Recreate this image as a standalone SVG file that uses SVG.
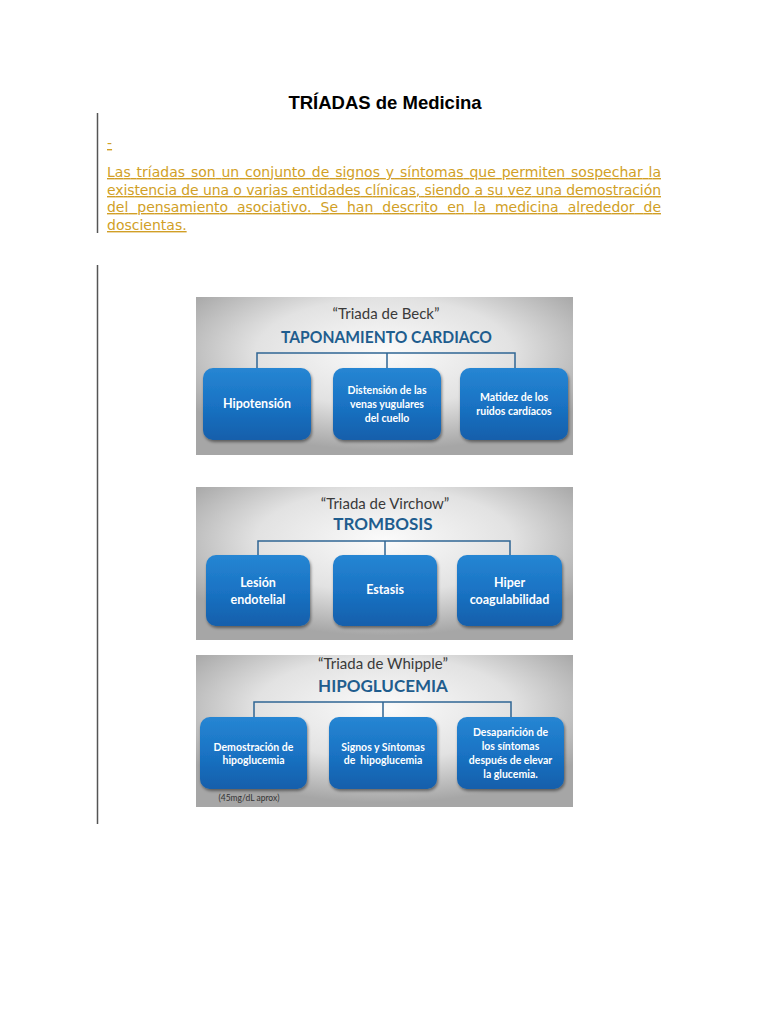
<svg xmlns="http://www.w3.org/2000/svg" width="768" height="1024" viewBox="0 0 768 1024">
<defs>
<radialGradient id="pg" cx="0.5" cy="0.35" r="0.62">
<stop offset="0" stop-color="#fbfbfb"/>
<stop offset="0.55" stop-color="#e2e2e2"/>
<stop offset="1" stop-color="#a6a6a6"/>
</radialGradient>
<linearGradient id="bg" x1="0" y1="0" x2="0" y2="1">
<stop offset="0" stop-color="#2686d3"/>
<stop offset="0.5" stop-color="#1a73c4"/>
<stop offset="1" stop-color="#135fab"/>
</linearGradient>
<filter id="sh" x="-10%" y="-10%" width="125%" height="130%">
<feDropShadow dx="1" dy="2" stdDeviation="1.5" flood-color="#000" flood-opacity="0.45"/>
</filter>
</defs>
<style>
.bar{stroke:#555;stroke-width:1.5}
.h1{font-family:"Liberation Sans",Arial,sans-serif;font-weight:bold;font-size:18.5px;fill:#000}
.p{font-family:"DejaVu Sans",Verdana,sans-serif;font-size:14px;fill:#d19f26;text-decoration:underline}
.panel{fill:url(#pg)}
.tt{font-family:Lato,"Open Sans",sans-serif;font-size:15px;fill:#3a3a3a;text-anchor:middle}
.hd{font-family:Lato,"Open Sans",sans-serif;font-weight:bold;font-size:17px;fill:#1f5d8e;text-anchor:middle}
.box{fill:url(#bg);filter:url(#sh)}
.bt{font-family:Lato,"Open Sans",sans-serif;font-weight:bold;fill:#fff;text-anchor:middle}
.s12{font-size:12.5px}
.s10{font-size:10.5px}
.cn{fill:none;stroke:#2f6594;stroke-width:1.5}
.note{font-family:Lato,"Open Sans",sans-serif;font-size:8.5px;fill:#333;text-anchor:middle}
</style>
<rect width="768" height="1024" fill="#fff"/>
<g id="header">
<text class="h1" x="385" y="109" text-anchor="middle">TRÍADAS de Medicina</text>
<line class="bar" x1="97.5" y1="113" x2="97.5" y2="233"/>
<line class="bar" x1="97.5" y1="265" x2="97.5" y2="824"/>
<text class="p" x="107" y="148">-</text>
<text class="p" x="107" y="177" word-spacing="1.4" textLength="554" lengthAdjust="spacing">Las tríadas son un conjunto de signos y síntomas que permiten sospechar la</text>
<text class="p" x="107" y="195" textLength="554" lengthAdjust="spacing">existencia de una o varias entidades clínicas, siendo a su vez una demostración</text>
<text class="p" x="107" y="212" word-spacing="4.7" textLength="554" lengthAdjust="spacing">del pensamiento asociativo. Se han descrito en la medicina alrededor de</text>
<text class="p" x="107" y="230">doscientas.</text>
</g>
<g id="panel-beck">
<rect class="panel" x="196" y="297" width="377" height="158"/>
<text class="tt" x="386" y="319">“Triada de Beck”</text>
<text class="hd" x="386.5" y="343" textLength="211" lengthAdjust="spacingAndGlyphs">TAPONAMIENTO CARDIACO</text>
</g>
<g id="panel-virchow">
<rect class="panel" x="196" y="487" width="377" height="153"/>
<text class="tt" x="385" y="509">“Triada de Virchow”</text>
<text class="hd" x="383" y="530">TROMBOSIS</text>
</g>
<g id="panel-whipple">
<rect class="panel" x="196" y="655" width="377" height="152"/>
<text class="tt" x="383" y="669">“Triada de Whipple”</text>
<text class="hd" x="383" y="692">HIPOGLUCEMIA</text>
<text class="note" x="249" y="801">(45mg/dL aprox)</text>
</g>
<g id="connectors">
<path class="cn" d="M257 368V353H515V368M387 353V368"/>
<path class="cn" d="M258 556V541H510V556M385 541V556"/>
<path class="cn" d="M254 717V702H511V717M383 702V717"/>
</g>
<g id="node-hipotension">
<rect class="box" x="203" y="368" width="108" height="72" rx="10"/>
<text class="bt s12" x="257" y="408">Hipotensión</text>
</g>
<g id="node-distension">
<rect class="box" x="333" y="368" width="108" height="72" rx="10"/>
<text class="bt s10" x="387"><tspan x="387" y="394">Distensión de las</tspan><tspan x="387" y="408">venas yugulares</tspan><tspan x="387" y="422">del cuello</tspan></text>
</g>
<g id="node-matidez">
<rect class="box" x="460" y="368" width="108" height="72" rx="10"/>
<text class="bt s10" x="514"><tspan x="514" y="401">Matidez de los</tspan><tspan x="514" y="415">ruidos cardíacos</tspan></text>
</g>
<g id="node-lesion">
<rect class="box" x="206" y="555" width="104" height="71" rx="10"/>
<text class="bt s12" x="258"><tspan x="258" y="587">Lesión</tspan><tspan x="258" y="604">endotelial</tspan></text>
</g>
<g id="node-estasis">
<rect class="box" x="333" y="555" width="104" height="71" rx="10"/>
<text class="bt s12" x="385" y="594">Estasis</text>
</g>
<g id="node-hiper">
<rect class="box" x="457" y="555" width="105" height="71" rx="10"/>
<text class="bt s12" x="509.5"><tspan x="509.5" y="587">Hiper</tspan><tspan x="509.5" y="604">coagulabilidad</tspan></text>
</g>
<g id="node-demostracion">
<rect class="box" x="200" y="717" width="107" height="72" rx="10"/>
<text class="bt s10" x="253.5"><tspan x="253.5" y="751">Demostración de</tspan><tspan x="253.5" y="764">hipoglucemia</tspan></text>
</g>
<g id="node-signos">
<rect class="box" x="329" y="717" width="108" height="72" rx="10"/>
<text class="bt s10" x="383" xml:space="preserve"><tspan x="383" y="751">Signos y Síntomas</tspan><tspan x="383" y="764">de  hipoglucemia</tspan></text>
</g>
<g id="node-desaparicion">
<rect class="box" x="457" y="717" width="107" height="72" rx="10"/>
<text class="bt s10" x="510.5"><tspan x="510.5" y="736">Desaparición de</tspan><tspan x="510.5" y="750">los síntomas</tspan><tspan x="510.5" y="764">después de elevar</tspan><tspan x="510.5" y="778">la glucemia.</tspan></text>
</g>
</svg>
